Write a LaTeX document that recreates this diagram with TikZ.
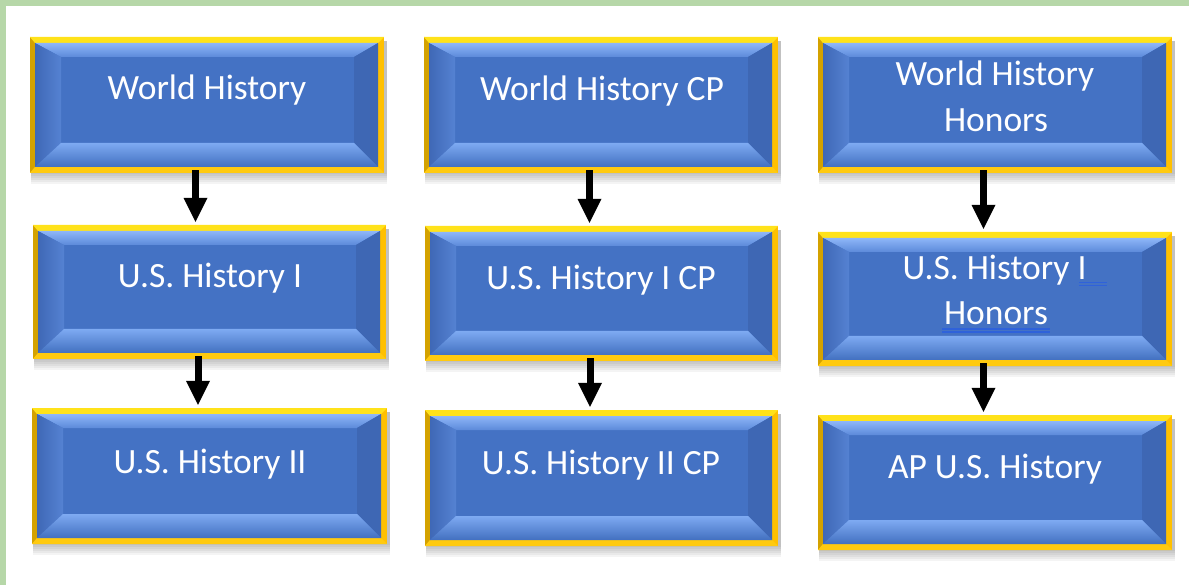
\documentclass[tikz,border=0pt]{standalone}
\usepackage{fontspec}
\setmainfont{Carlito}
\usetikzlibrary{calc,fit,arrows.meta}
\definecolor{gborder}{HTML}{B6D7A8}
\definecolor{goldR}{HTML}{FFC000}
\definecolor{goldL}{HTML}{D4A200}
\definecolor{goldT}{HTML}{FFE21A}
\definecolor{goldB}{HTML}{FFCA10}
\definecolor{bmid}{HTML}{4472C4}
\definecolor{btopA}{HTML}{8EB6F8}
\definecolor{btopB}{HTML}{5C8ADA}
\definecolor{bleftA}{HTML}{3F68B6}
\definecolor{bleftB}{HTML}{5582D2}
\definecolor{bright}{HTML}{3E67B4}
\definecolor{bbotA}{HTML}{7EAAF2}
\definecolor{bbotB}{HTML}{4270C0}
\definecolor{spell}{HTML}{2F62DA}
\tikzset{
  lbl/.style={text=white, font=\fontsize{35.5}{46}\selectfont, inner sep=0pt, anchor=base},
  flow/.style={draw=black, line width=7pt, -{Triangle[width=24pt,length=24pt,line width=0pt]}},
  spellmark/.style={draw=spell, line width=1.1pt}
}
\newcommand\bevbox[5]{%
  \foreach \k in {1,3,5,7,9,11} {\fill[black,opacity=0.045] (#2+1,#3+4) rectangle (#4+3,#5+\k);}
  \fill[goldR] (#2,#3) rectangle (#4,#5);
  \fill[goldL] (#2,#3) -- (#2+5,#3+6) -- (#2+5,#5-6) -- (#2,#5) -- cycle;
  \fill[goldT] (#2,#3) -- (#4,#3) -- (#4-6,#3+6) -- (#2+5,#3+6) -- cycle;
  \fill[goldB] (#2,#5) -- (#2+5,#5-6) -- (#4-6,#5-6) -- (#4,#5) -- cycle;
  \fill[bmid] (#2+5,#3+6) rectangle (#4-6,#5-6);
  \shade[top color=btopA, bottom color=btopB] (#2+5,#3+6) -- (#4-6,#3+6) -- (#4-30,#3+20) -- (#2+31,#3+20) -- cycle;
  \shade[left color=bleftA, right color=bleftB] (#2+5,#3+6) -- (#2+31,#3+20) -- (#2+31,#5-30) -- (#2+5,#5-6) -- cycle;
  \fill[bright] (#4-6,#3+6) -- (#4-30,#3+20) -- (#4-30,#5-30) -- (#4-6,#5-6) -- cycle;
  \shade[top color=bbotA, bottom color=bbotB] (#2+5,#5-6) -- (#2+31,#5-30) -- (#4-30,#5-30) -- (#4-6,#5-6) -- cycle;
  \node[fit={(#2,#3) (#4,#5)}, inner sep=0pt] (#1) {};
}
\begin{document}
\begin{tikzpicture}[x=1pt,y=-1pt]
\useasboundingbox (0,0) rectangle (1189,585);
\fill[white] (0,0) rectangle (1189,585);
\fill[gborder] (0,0) rectangle (1189,6.5);
\fill[gborder] (0,0) rectangle (6,585);

\bevbox{c11}{30}{37}{384}{173}
\bevbox{c12}{33}{225}{386}{359}
\bevbox{c13}{32}{408}{387}{544}
\bevbox{c21}{424}{37}{778}{173}
\bevbox{c22}{425}{226}{778}{361}
\bevbox{c23}{425}{410}{778}{546}
\bevbox{c31}{818}{37}{1172}{173}
\bevbox{c32}{818}{232}{1172}{366}
\bevbox{c33}{818}{415}{1172}{550}

\node[lbl] (t11) at (207,100) {World History};
\node[lbl] (t21) at (602,101) {World History CP};
\node[lbl] (t31a) at (995,86) {World History};
\node[lbl] (t31b) at (996,132) {Honors};
\node[lbl] (t12) at (210,288) {U.S. History I};
\node[lbl] (t22) at (601,290) {U.S. History I CP};
\node[lbl] (t32a) at (994.5,280) {U.S. History I};
\node[lbl] (t32b) at (996,325) {Honors};
\node[lbl] (t13) at (210,473) {U.S. History II};
\node[lbl] (t23) at (601,474) {U.S. History II CP};
\node[lbl] (t33) at (995,478) {AP U.S. History};

\draw[spellmark] (1079,282.5) -- (1107,282.5);
\draw[spellmark] (1079,285.5) -- (1107,285.5);
\draw[spellmark] (942,329) -- (1050,329);
\draw[spellmark] (942,332) -- (1050,332);

\draw[flow] ($(c11.south)+(-11.5,-3)$) -- ($(c11.south |- c12.north)+(-11.5,-3)$);
\draw[flow] ($(c12.south)+(-11.5,-3)$) -- ($(c12.south |- c13.north)+(-11.5,-3)$);
\draw[flow] ($(c21.south)+(-11.5,-3)$) -- ($(c21.south |- c22.north)+(-11.5,-3)$);
\draw[flow] ($(c22.south)+(-11.5,-3)$) -- ($(c22.south |- c23.north)+(-11.5,-3)$);
\draw[flow] ($(c31.south)+(-11.5,-3)$) -- ($(c31.south |- c32.north)+(-11.5,-3)$);
\draw[flow] ($(c32.south)+(-11.5,-3)$) -- ($(c32.south |- c33.north)+(-11.5,-3)$);
\end{tikzpicture}
\end{document}
